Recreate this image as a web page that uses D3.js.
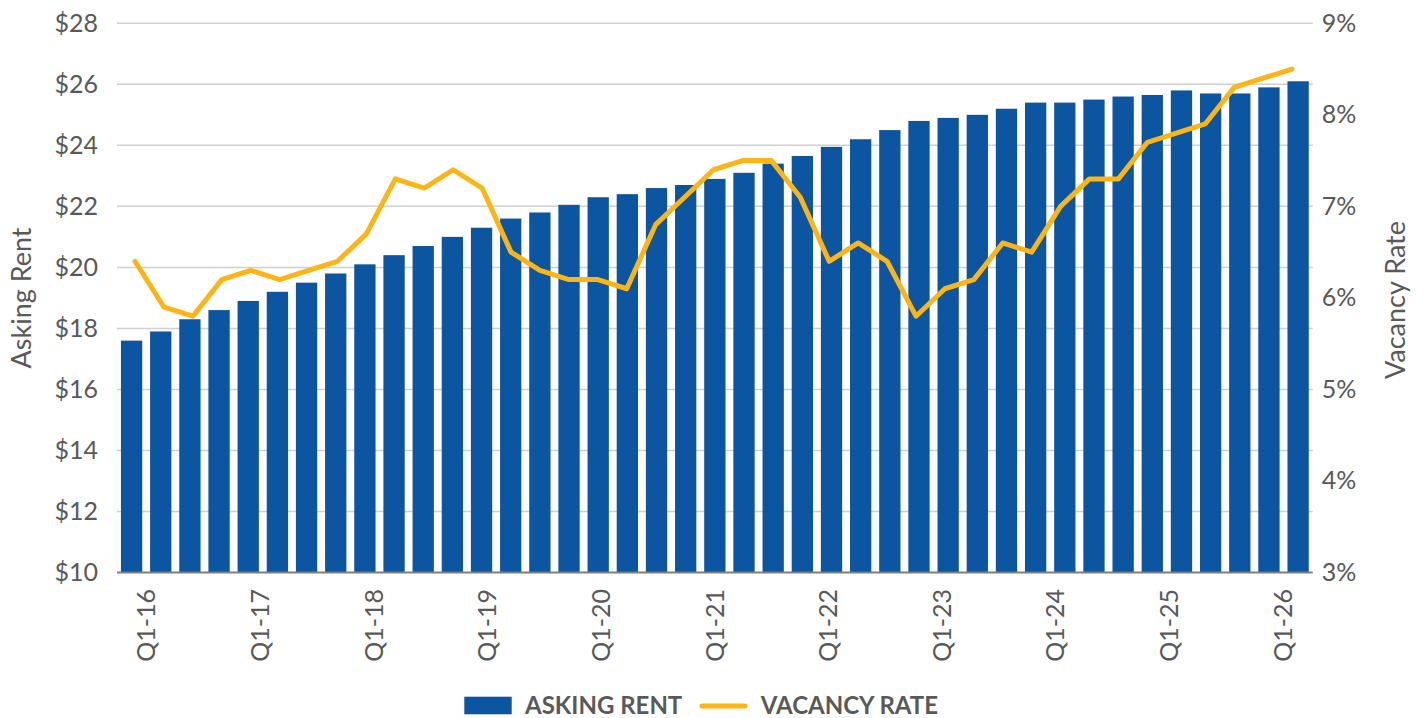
<!DOCTYPE html>
<html>
<head>
<meta charset="utf-8">
<script src="https://cdn.jsdelivr.net/npm/d3@7"></script>
<style>
  html, body { margin: 0; padding: 0; background: #fff; }
  svg { display: block; }
  text { font-family: Lato, "Open Sans", sans-serif; fill: #595959; }
</style>
</head>
<body>
<svg id="chart" width="1424" height="718"></svg>
<script>
const quarters = [
  "Q1-16","Q2-16","Q3-16","Q4-16","Q1-17","Q2-17","Q3-17","Q4-17",
  "Q1-18","Q2-18","Q3-18","Q4-18","Q1-19","Q2-19","Q3-19","Q4-19",
  "Q1-20","Q2-20","Q3-20","Q4-20","Q1-21","Q2-21","Q3-21","Q4-21",
  "Q1-22","Q2-22","Q3-22","Q4-22","Q1-23","Q2-23","Q3-23","Q4-23",
  "Q1-24","Q2-24","Q3-24","Q4-24","Q1-25","Q2-25","Q3-25","Q4-25",
  "Q1-26"
];
const askingRent = [
  17.6,17.9,18.3,18.6,18.9,19.2,19.5,19.8,
  20.1,20.4,20.7,21.0,21.3,21.6,21.8,22.05,
  22.3,22.4,22.6,22.7,22.9,23.1,23.4,23.65,
  23.95,24.2,24.5,24.8,24.9,25.0,25.2,25.4,
  25.4,25.5,25.6,25.65,25.8,25.7,25.7,25.9,
  26.1
];
const vacancyRate = [
  6.4,5.9,5.8,6.2,6.3,6.2,6.3,6.4,
  6.7,7.3,7.2,7.4,7.2,6.5,6.3,6.2,
  6.2,6.1,6.8,7.1,7.4,7.5,7.5,7.1,
  6.4,6.6,6.4,5.8,6.1,6.2,6.6,6.5,
  7.0,7.3,7.3,7.7,7.8,7.9,8.3,8.4,
  8.5
];
const xTickLabels = ["Q1-16","Q1-17","Q1-18","Q1-19","Q1-20","Q1-21","Q1-22","Q1-23","Q1-24","Q1-25","Q1-26"];
const rentTicks = [10,12,14,16,18,20,22,24,26,28];
const vacancyTicks = [3,4,5,6,7,8,9];
const legendItems = ["ASKING RENT","VACANCY RATE"];

const BLUE = "#0b55a1";
const ORANGE = "#fdb515";

const svg = d3.select("#chart");
const plot = { left: 117, right: 1312.7, top: 23.3, bottom: 572.5 };

const x = d3.scaleBand().domain(quarters).range([plot.left, plot.right])
  .paddingInner(0.27).paddingOuter(0.135);
const xLine = d3.scalePoint().domain(quarters).range([135, 1292]);
const xLabel = d3.scalePoint().domain(xTickLabels).range([146.5, 1283]);
const yL = d3.scaleLinear().domain([10, 28]).range([plot.bottom, plot.top]);
const yR = d3.scaleLinear().domain([3, 9]).range([plot.bottom, plot.top]);

// gridlines
svg.append("g").selectAll("line").data(rentTicks.slice(1)).join("line")
  .attr("x1", plot.left).attr("x2", plot.right)
  .attr("y1", d => yL(d)).attr("y2", d => yL(d))
  .attr("stroke", "#d0d0d0").attr("stroke-width", 1.5);

// left axis labels
const leftAxis = d3.axisLeft(yL).tickValues(rentTicks).tickSize(0).tickPadding(19)
  .tickFormat(d => "$" + d);
svg.append("g").attr("transform", `translate(${plot.left},0)`).call(leftAxis)
  .call(g => g.select(".domain").remove())
  .selectAll("text").style("font-family", "Lato, sans-serif").attr("font-size", 25).attr("fill", "#595959");

// right axis labels
const rightAxis = d3.axisRight(yR).tickValues(vacancyTicks).tickSize(0).tickPadding(9)
  .tickFormat(d => d + "%");
svg.append("g").attr("transform", `translate(${plot.right},0)`).call(rightAxis)
  .call(g => g.select(".domain").remove())
  .selectAll("text").style("font-family", "Lato, sans-serif").attr("font-size", 25).attr("fill", "#595959");

// bars
svg.append("g").selectAll("rect").data(quarters).join("rect")
  .attr("x", d => x(d)).attr("width", x.bandwidth())
  .attr("y", (d, i) => yL(askingRent[i]))
  .attr("height", (d, i) => yL(10) - yL(askingRent[i]))
  .attr("fill", BLUE);

// baseline
svg.append("line").attr("x1", plot.left).attr("x2", plot.right)
  .attr("y1", plot.bottom).attr("y2", plot.bottom)
  .attr("stroke", "#7f7f7f").attr("stroke-width", 2);

// vacancy line
const line = d3.line().x((d, i) => xLine(quarters[i])).y(d => yR(d));
svg.append("path").datum(vacancyRate).attr("d", line)
  .attr("fill", "none").attr("stroke", ORANGE).attr("stroke-width", 5)
  .attr("stroke-linejoin", "round").attr("stroke-linecap", "round");

// x labels
svg.append("g").selectAll("text").data(xTickLabels).join("text")
  .attr("transform", d => `translate(${xLabel(d)},589) rotate(-90)`)
  .attr("text-anchor", "end").attr("dy", "0.35em")
  .attr("font-size", 25).text(d => d);

// axis titles
svg.append("text").attr("transform", "translate(22,298) rotate(-90)")
  .attr("text-anchor", "middle").attr("dy", "0.35em").attr("font-size", 27)
  .text("Asking Rent");
svg.append("text").attr("transform", "translate(1396,300) rotate(-90)")
  .attr("text-anchor", "middle").attr("dy", "0.35em").attr("font-size", 27)
  .text("Vacancy Rate");

// legend
const lg = svg.append("g");
lg.append("rect").attr("x", 464.3).attr("y", 696.7).attr("width", 47.4).attr("height", 17.6).attr("fill", BLUE);
lg.append("text").attr("x", 525).attr("y", 714.3).attr("font-size", 24).attr("font-weight", 700)
  .text(legendItems[0]);
lg.append("line").attr("x1", 702).attr("x2", 745).attr("y1", 706).attr("y2", 706)
  .attr("stroke", ORANGE).attr("stroke-width", 5).attr("stroke-linecap", "round");
lg.append("text").attr("x", 760.7).attr("y", 714.3).attr("font-size", 24).attr("font-weight", 700)
  .text(legendItems[1]);
</script>
</body>
</html>
